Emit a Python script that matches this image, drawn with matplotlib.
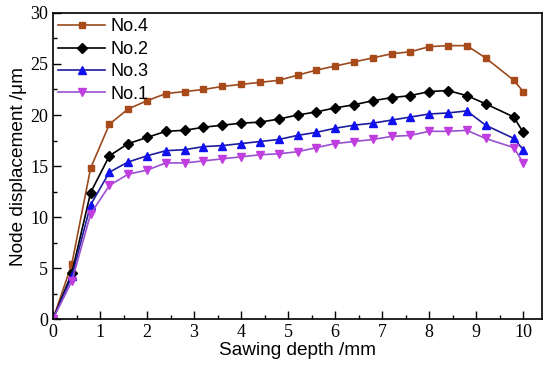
import matplotlib
matplotlib.use("Agg")
import matplotlib.pyplot as plt
from matplotlib.ticker import MultipleLocator

# Sawing depth (mm) and node displacement (um)
depth = [0, 0.4, 0.8, 1.2, 1.6, 2.0, 2.4, 2.8, 3.2, 3.6, 4.0, 4.4, 4.8, 5.2,
         5.6, 6.0, 6.4, 6.8, 7.2, 7.6, 8.0, 8.4, 8.8, 9.2, 9.8, 10.0]

no4 = [0, 5.4, 14.8, 19.1, 20.6, 21.4, 22.1, 22.3, 22.5, 22.8, 23.0, 23.2, 23.4,
       23.9, 24.4, 24.8, 25.2, 25.6, 26.0, 26.2, 26.7, 26.8, 26.8, 25.6, 23.4, 22.3]
no2 = [0, 4.5, 12.4, 16.0, 17.2, 17.8, 18.4, 18.5, 18.8, 19.0, 19.2, 19.3, 19.6,
       20.0, 20.3, 20.7, 21.0, 21.4, 21.7, 21.9, 22.3, 22.4, 21.9, 21.1, 19.8, 18.3]
no3 = [0, 4.2, 11.2, 14.4, 15.4, 16.0, 16.5, 16.6, 16.9, 17.0, 17.2, 17.4, 17.6,
       18.0, 18.3, 18.7, 19.0, 19.2, 19.5, 19.8, 20.1, 20.2, 20.4, 19.0, 17.7, 16.6]
no1 = [0, 3.7, 10.3, 13.1, 14.2, 14.6, 15.3, 15.3, 15.5, 15.7, 15.9, 16.1, 16.2,
       16.4, 16.8, 17.2, 17.4, 17.6, 17.9, 18.0, 18.4, 18.4, 18.5, 17.7, 16.8, 15.3]

fig = plt.figure(figsize=(5.5, 3.8), dpi=100)
ax = fig.add_axes([0.0964, 0.1605, 0.8891, 0.8053])

ax.plot(depth, no4, color="#9b4a1e", marker="s", markersize=5,
        markerfacecolor="#a84a1a", markeredgecolor="#a84a1a", lw=1.2, label="No.4")
ax.plot(depth, no2, color="black", marker="D", markersize=5,
        markerfacecolor="black", lw=1.2, label="No.2")
ax.plot(depth, no3, color="#1c1c9c", marker="^", markersize=6,
        markerfacecolor="#1010f0", markeredgecolor="#1010f0", lw=1.2, label="No.3")
ax.plot(depth, no1, color="#9a50d0", marker="v", markersize=6,
        markerfacecolor="#c03ee0", markeredgecolor="#c03ee0", lw=1.2, label="No.1")

ax.set_xlim(0, 10.4)
ax.set_ylim(0, 30)
ax.xaxis.set_major_locator(MultipleLocator(1))
ax.xaxis.set_minor_locator(MultipleLocator(0.5))
ax.yaxis.set_major_locator(MultipleLocator(5))
ax.yaxis.set_minor_locator(MultipleLocator(2.5))
ax.tick_params(which="both", direction="in", top=False, right=False, width=1)
ax.tick_params(which="major", length=6)
ax.tick_params(which="minor", length=3)
for lab in ax.get_xticklabels() + ax.get_yticklabels():
    lab.set_fontfamily("Liberation Serif")
    lab.set_fontsize(13)
for s in ax.spines.values():
    s.set_linewidth(1.2)

ax.set_xlabel("Sawing depth /mm", fontfamily="Liberation Sans", fontsize=13.7, labelpad=1)
ax.set_ylabel("Node displacement /\u03bcm", fontfamily="Liberation Sans", fontsize=13.7, labelpad=2)

ax.legend(loc="upper left", frameon=False, prop={"family": "Liberation Sans", "size": 13},
          handlelength=2.6, borderaxespad=0.05, labelspacing=0.3, handletextpad=0.3,
          borderpad=0.25)

fig.savefig("out.png", dpi=100)
